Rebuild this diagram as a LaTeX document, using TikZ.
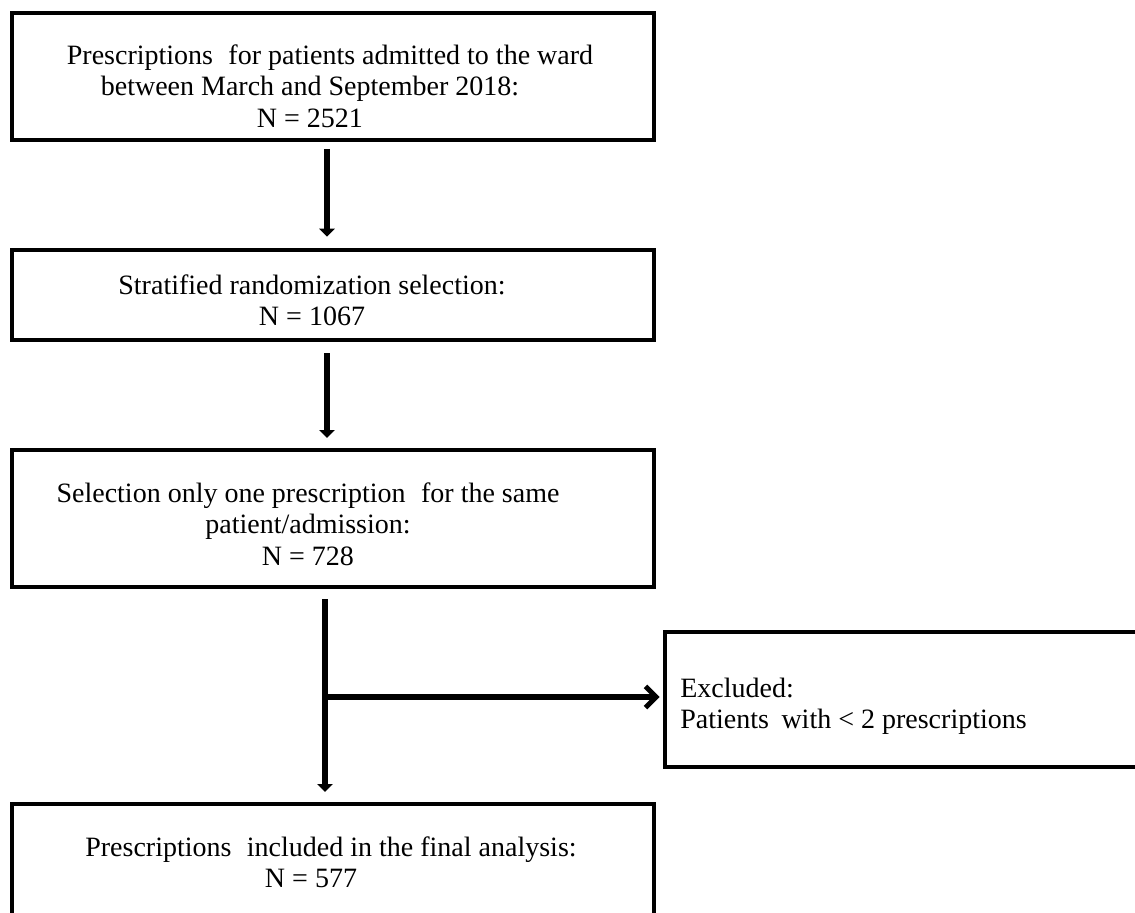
\documentclass[tikz,border=0pt]{standalone}
\usepackage{fontspec}
\setmainfont{Liberation Serif}
\usetikzlibrary{arrows.meta}
\begin{document}
\begin{tikzpicture}[x=0.75pt,y=-0.75pt,
  box/.style={draw, line width=2.6pt, minimum width=481.5pt, inner sep=0pt, outer sep=0pt},
  txt/.style={font=\fontsize{21}{23.5}\selectfont, align=center, inner sep=0pt},
  varrow/.style={line width=4.8pt, -{Triangle[width=11.5pt,length=6pt]}},
  harrow/.style={line width=3.8pt, -{Straight Barb[width=16pt,length=8pt]}}]
\path[use as bounding box] (0,0) rectangle (1135,913);
\clip (0,0) rectangle (1135,913);

\node[box, minimum height=95.25pt] (b1) at (333,76.5) {};
\node[box, minimum height=67.5pt] (b2) at (333,295) {};
\node[box, minimum height=102.75pt] (b3) at (333,518.5) {};
\node[box, minimum height=120pt] (b5) at (333,884) {};
\node[box, minimum width=363pt, minimum height=101.25pt] (ex) at (907,699.5) {};

\node[txt] (t1) at (310,86) {\hspace*{30pt}Prescriptions\hspace{0.3em} for patients admitted to the ward\\between March and September 2018:\\N = 2521};
\node[txt] (t2) at (312,300) {Stratified randomization selection:\\N = 1067};
\node[txt] (t3) at (308,524) {Selection only one prescription\hspace{0.3em} for the same\\patient/admission:\\N = 728};
\node[txt] (t5) at (311,862) {\hspace*{30pt}Prescriptions\hspace{0.3em} included in the final analysis:\\N = 577};
\node[txt, align=left, anchor=west] (t4) at (680,706) {Excluded:\\Patients\hspace{0.2em} with < 2 prescriptions};

\draw[varrow, shorten <=6.75pt, shorten >=10pt] ([xshift=-4.5pt]b1.south) -- ([xshift=-4.5pt]b2.north);
\draw[varrow, shorten <=9.75pt, shorten >=9pt] ([xshift=-4.5pt]b2.south) -- ([xshift=-4.5pt]b3.north);
\draw[varrow, shorten <=9pt, shorten >=9pt] ([xshift=-6pt]b3.south) -- ([xshift=-6pt]b5.north);
\coordinate (split) at (325,697);
\draw[harrow, shorten >=4pt] (split) -- (split -| ex.west);
\end{tikzpicture}
\end{document}
